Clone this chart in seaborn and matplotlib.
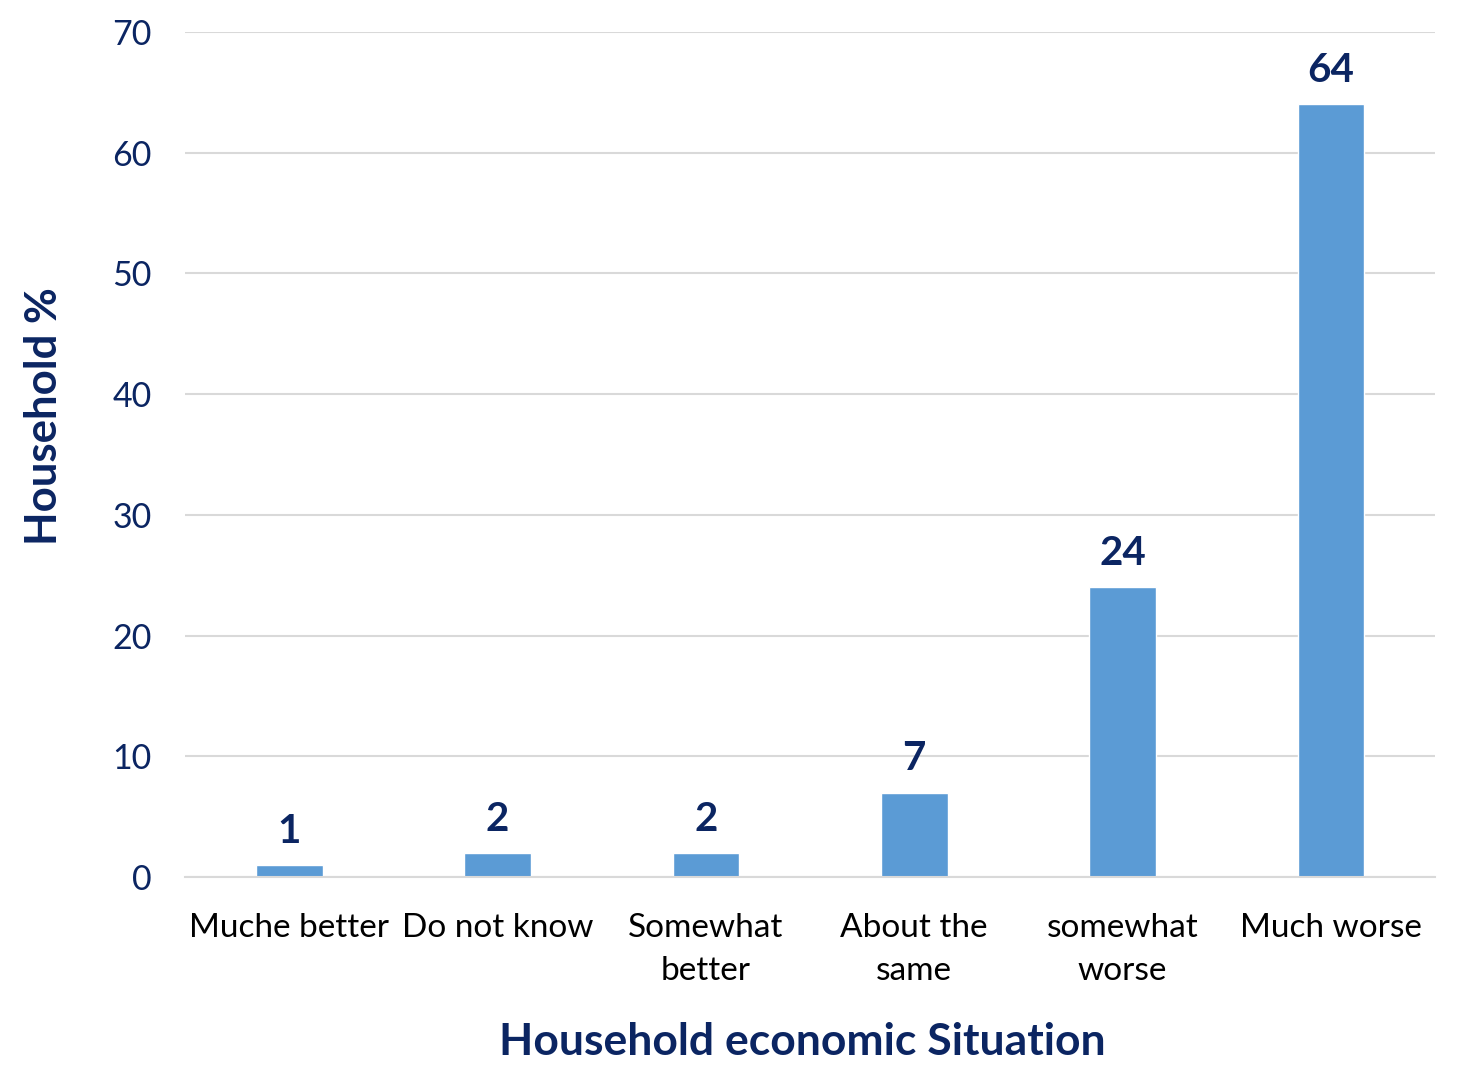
import matplotlib
matplotlib.use("Agg")
import matplotlib.pyplot as plt
import seaborn as sns
import pandas as pd

categories = ["Muche better", "Do not know", "Somewhat\nbetter", "About the\nsame", "somewhat\nworse", "Much worse"]
values = [1, 2, 2, 7, 24, 64]
yticks = [0, 10, 20, 30, 40, 50, 60, 70]

NAVY = "#0B2562"
BAR = "#5B9BD5"

sns.set_theme(style="white")
plt.rcParams['font.family'] = ['Lato', 'DejaVu Sans']

df = pd.DataFrame({"cat": categories, "val": values})

fig = plt.figure(figsize=(14.59, 10.65), dpi=100)
ax = fig.add_axes([185/1459, 1-877/1065, (1435-185)/1459, (877-32)/1065])

sns.barplot(data=df, x="cat", y="val", color=BAR, width=0.32, ax=ax, saturation=1)

ax.set_ylim(0, 70)
ax.set_yticks(yticks)
ax.set_xlim(-0.5, len(categories)-0.5)
ax.yaxis.grid(True, color="#D9D9D9", linewidth=1.5)
ax.set_axisbelow(True)
for s in ["top", "right", "left"]:
    ax.spines[s].set_visible(False)
ax.spines["bottom"].set_color("#D9D9D9")
ax.spines["bottom"].set_linewidth(1.5)

ax.tick_params(axis="y", labelsize=24.5, labelcolor=NAVY, length=0, pad=24)
ax.tick_params(axis="x", labelsize=24, labelcolor="black", length=0, pad=26)
for lbl in ax.get_xticklabels():
    lbl.set_linespacing(1.55)

for c in ax.containers:
    ax.bar_label(c, labels=[str(v) for v in values], fontsize=29, fontweight="bold", color=NAVY, padding=11)

ax.set_xlabel("Household economic Situation", fontsize=32, fontweight="bold", color=NAVY, labelpad=26, x=0.4936)
ax.set_ylabel("Household %", fontsize=31.5, fontweight="bold", color=NAVY, labelpad=35, y=0.545)

fig.savefig("out.png", dpi=100)
